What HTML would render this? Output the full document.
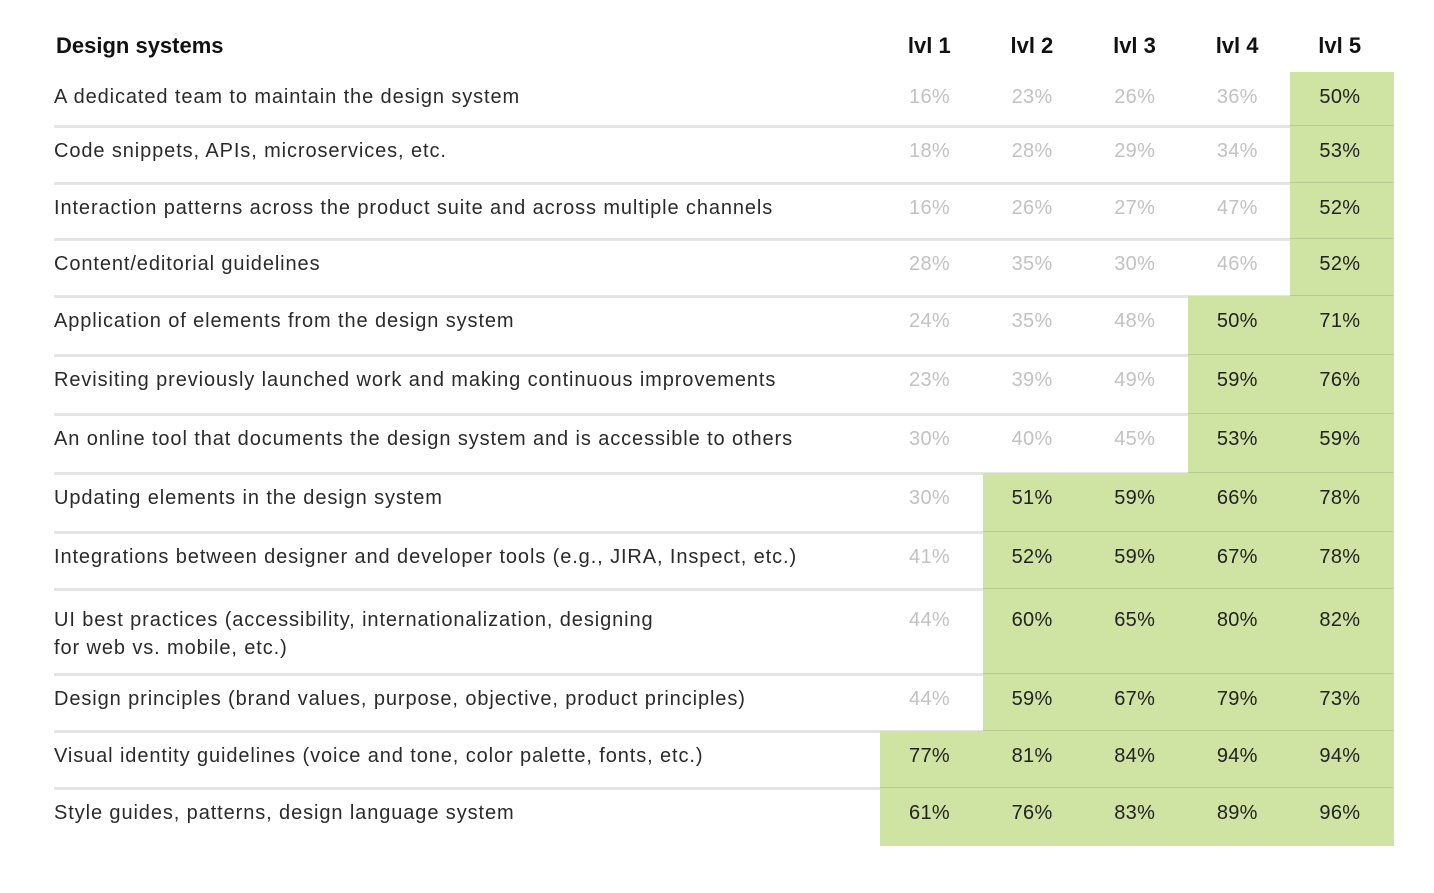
<!DOCTYPE html>
<html><head><meta charset="utf-8"><style>
html,body{margin:0;padding:0;background:#fff;width:1434px;height:893px;overflow:hidden}
#t{position:relative;width:1434px;height:893px;font-family:"Liberation Sans",sans-serif}
.c{position:absolute}
.lbl{position:absolute;left:54px;font-size:20px;color:#2a2a2a;line-height:28px;letter-spacing:0.9px}
.val{position:absolute;width:103px;text-align:center;font-size:20px;line-height:28px;letter-spacing:0.3px}
.hd{position:absolute;font-weight:bold;font-size:22px;color:#111;top:32px;line-height:28px}
.line{position:absolute;left:54px;width:1339px;height:3px;background:rgba(0,0,0,0.1)}
</style></head><body>
<div id="t">
<div class="hd" style="left:56px">Design systems</div>
</div>
<script>
const levels=["lvl 1","lvl 2","lvl 3","lvl 4","lvl 5"];
const rows=["A dedicated team to maintain the design system","Code snippets, APIs, microservices, etc.","Interaction patterns across the product suite and across multiple channels","Content/editorial guidelines","Application of elements from the design system","Revisiting previously launched work and making continuous improvements","An online tool that documents the design system and is accessible to others","Updating elements in the design system","Integrations between designer and developer tools (e.g., JIRA, Inspect, etc.)","UI best practices (accessibility, internationalization, designing<br>for web vs. mobile, etc.)","Design principles (brand values, purpose, objective, product principles)","Visual identity guidelines (voice and tone, color palette, fonts, etc.)","Style guides, patterns, design language system"];
const lvl1=[16,18,16,28,24,23,30,30,41,44,44,77,61];
const lvl2=[23,28,26,35,35,39,40,51,52,60,59,81,76];
const lvl3=[26,29,27,30,48,49,45,59,59,65,67,84,83];
const lvl4=[36,34,47,46,50,59,53,66,67,80,79,94,89];
const lvl5=[50,53,52,52,71,76,59,78,78,82,73,94,96];
const series=[lvl1,lvl2,lvl3,lvl4,lvl5];
const threshold=50;
const rowH=[54,57,56,57,59,59,59,59,57,85,57,57,57];
const top0=72,colX0=880,colW=102.6;
const t=document.getElementById('t');
levels.forEach((l,j)=>{
  const h=document.createElement('div');h.className='hd';
  h.style.left=(colX0+j*colW-2)+'px';h.style.width=colW+'px';h.style.textAlign='center';
  h.textContent=l;
  
  
  t.appendChild(h);
});
let y=top0;
rows.forEach((r,i)=>{
  const h=rowH[i];
  const two=r.indexOf('<br>')>=0;
  const lb=document.createElement('div');lb.className='lbl';
  lb.style.top=(two?y+17:y+11)+'px';lb.innerHTML=r;
  
  
  t.appendChild(lb);
  series.forEach((s,j)=>{
    const v=s[i];
    if(v>=threshold){
      const g=document.createElement('div');g.className='c';
      g.style.cssText='left:'+(colX0+j*colW)+'px;top:'+y+'px;width:'+(colW+0.6)+'px;height:'+(h+0.5)+'px;background:#cfe3a3';
      
      
      t.appendChild(g);
    }
    const c=document.createElement('div');c.className='val';
    c.style.left=(colX0+j*colW-2)+'px';c.style.top=(two?y+17:y+11)+'px';
    c.style.color=v>=threshold?'#222':'#c2c2c2';
    c.textContent=v+'%';
    
    
    t.appendChild(c);
  });
  y+=h;
  if(i<rows.length-1){
    const ln=document.createElement('div');ln.className='line';ln.style.top=(y-1)+'px';
    
    
    t.appendChild(ln);
  }
});
</script>
</body></html>
